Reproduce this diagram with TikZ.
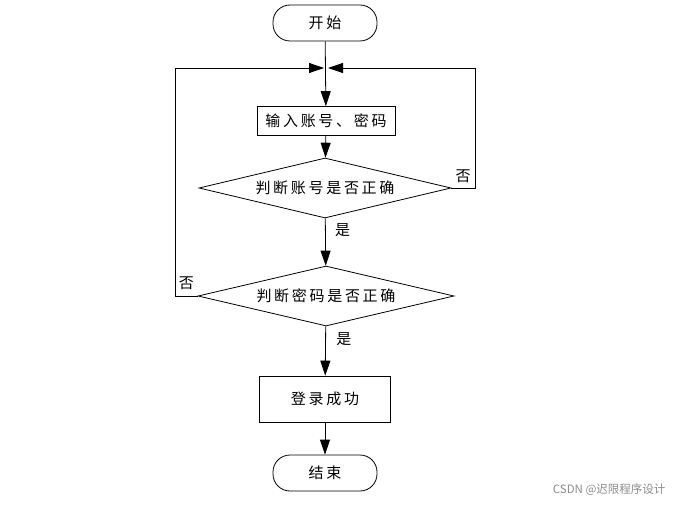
\documentclass[tikz,border=0pt]{standalone}
\usepackage{fontspec}
\newfontfamily\cjk[LetterSpace=18]{Noto Sans CJK SC}
\newfontfamily\cjkmark{Noto Sans CJK SC}
\usetikzlibrary{shapes.geometric,arrows.meta}
\begin{document}
\begin{tikzpicture}[x=1pt, y=-1pt,
    every node/.style={font=\cjk\fontsize{15}{17}\selectfont},
    term/.style={draw, line width=0.8pt, rounded corners=17pt,
      minimum width=104pt, minimum height=36pt, inner sep=0pt},
    proc/.style={draw, line width=0.8pt, inner sep=0pt},
    test/.style={diamond, draw, line width=0.8pt, shape aspect=4.2,
      minimum width=252pt, minimum height=60pt, inner sep=0pt}]
  \useasboundingbox (0,0) rectangle (676,505);

  \node [term] (start) at (325,23) {开始};
  \node [proc, minimum width=138pt, minimum height=29pt] (input) at
  (326,121) {输入账号、密码};
  \node [test] (user) at (325,188) {判断账号是否正确};
  \node [test, minimum width=256pt] (pass) at (326,296) {判断密码是否正确};
  \node [proc, minimum width=131pt, minimum height=46pt] (ok) at
  (325,399) {登录成功};
  \node [term] (end) at (325,473) {结束};

  \coordinate (join) at (325,68);
  \coordinate (rgt) at (475,188);
  \coordinate (lft) at (175,296);

  \begin{scope}[->, >={Triangle[length=15pt,width=10pt]}, line
    width=0.8pt]
    \draw (start) to (input);
    \draw (input) to (user);
    \draw (user) to node [right=6pt, near start] {是} (pass);
    \draw (pass) to node [right=7pt, near start] {是} (ok);
    \draw (ok) to (end);

    \draw (user.east) -- node [above=2pt] {否} (rgt) |- ([xshift=3pt]join);
    \draw (pass.west) -- node [above=3pt] {否} (lft) |- ([xshift=-1pt]join);
  \end{scope}

  \node [font=\cjkmark\fontsize{11.5}{13}\selectfont, text=black!45,
  anchor=east] (mark) at (669,490) {CSDN @迟限程序设计};
\end{tikzpicture}
\end{document}
